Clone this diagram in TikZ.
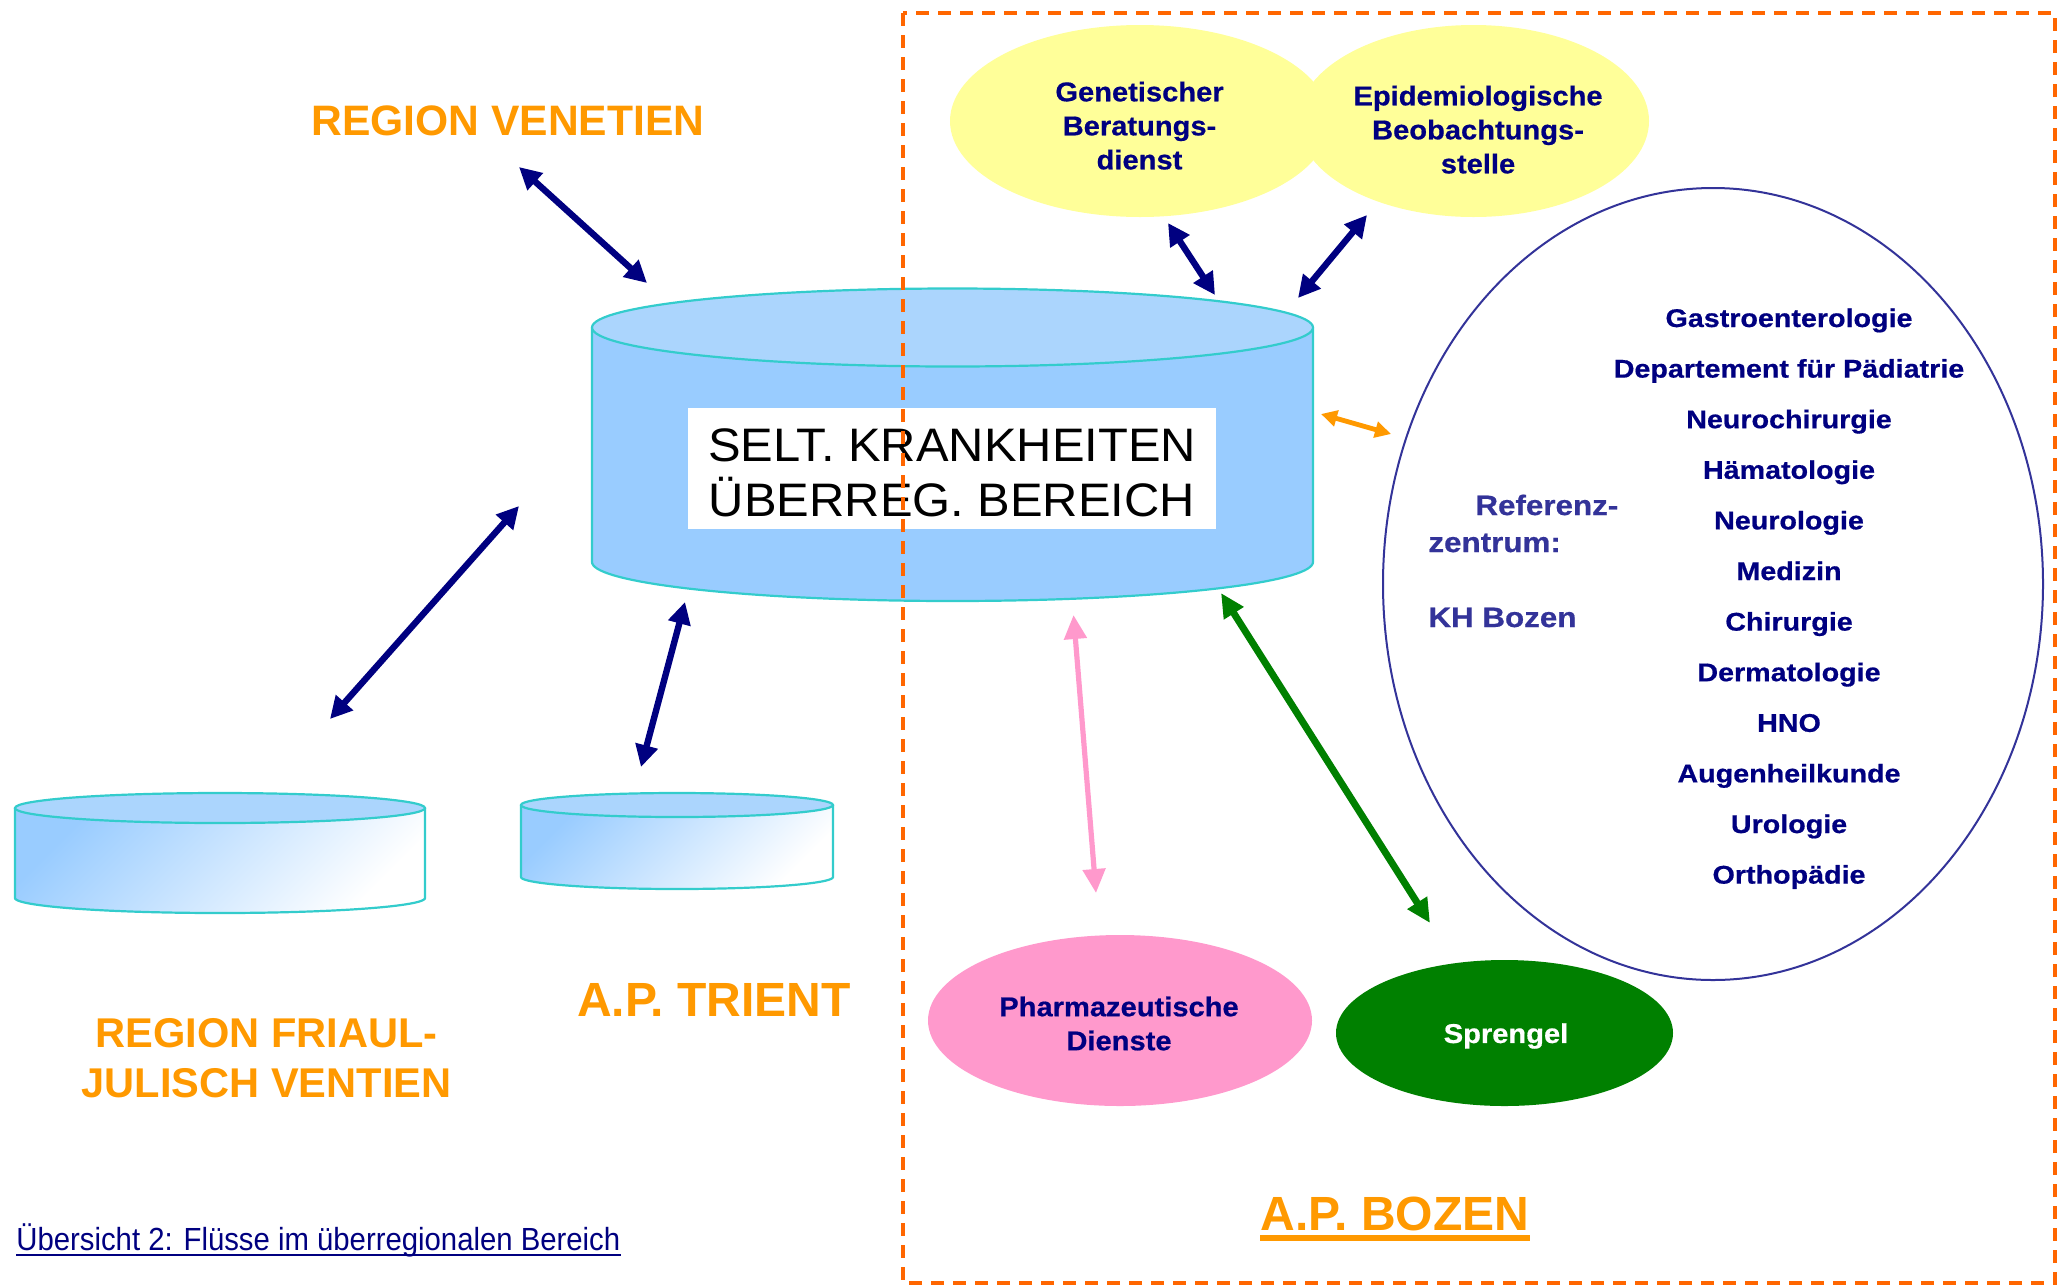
\documentclass[tikz,border=0pt]{standalone}
\usepackage{fontspec}
\setmainfont{Liberation Sans}
\newfontfamily\fEll[FakeStretch=1.07,FakeBold=0.6]{Liberation Sans}
\newfontfamily\fList[FakeStretch=1.12,FakeBold=0.6]{Liberation Sans}
\newfontfamily\fCap[FakeStretch=0.916]{Liberation Sans}
\newfontfamily\fMain[FakeStretch=1.04]{Liberation Sans}
\usetikzlibrary{arrows.meta,shapes.geometric}
\definecolor{navy}{HTML}{000080}
\definecolor{orangeT}{HTML}{FF9900}
\definecolor{dashOr}{HTML}{FF6600}
\definecolor{cylBody}{HTML}{99CCFF}
\definecolor{cylTop}{HTML}{ABD5FD}
\definecolor{cylLine}{HTML}{33CCCC}
\definecolor{yel}{HTML}{FFFF99}
\definecolor{pinkF}{HTML}{FF99CC}
\definecolor{greenF}{HTML}{008000}
\definecolor{slate}{HTML}{333399}
% cx, rx, ytop, ybot, ry, fill options
\newcommand\drawCyl[6]{%
  \path[#6] ({#1-#2},#3) -- ({#1-#2},#4) -- plot[domain=180:0,samples=73] ({#1+#2*cos(\x)},{#4+#5*sin(\x)}) -- ({#1+#2},#3) -- cycle;
  \draw[cylEdge] ({#1-#2},#3) -- ({#1-#2},#4) -- plot[domain=180:0,samples=73] ({#1+#2*cos(\x)},{#4+#5*sin(\x)}) -- ({#1+#2},#3);
  \draw[cylEdge,fill=cylTop] (#1,#3) ellipse [x radius=#2, y radius=#5];
}
\begin{document}
\begin{tikzpicture}[x=0.5pt,y=-0.5pt,
  cylEdge/.style={draw=cylLine, line width=1.1pt},
  ellTxt/.style={text=navy, font=\fEll\bfseries\fontsize{13.6}{17}\selectfont, align=center, inner sep=0},
  listTxt/.style={text=navy, font=\fList\bfseries\fontsize{12.8}{15}\selectfont, inner sep=0, anchor=base},
  refTxt/.style={text=slate, font=\fList\bfseries\fontsize{14}{17}\selectfont, inner sep=0, anchor=base west},
  regionTxt/.style={text=orangeT, font=\bfseries\fontsize{20.8}{25}\selectfont, inner sep=0, anchor=base},
  apTxt/.style={text=orangeT, font=\bfseries\fontsize{24}{28}\selectfont, inner sep=0, anchor=base},
  blob/.style={ellipse, inner sep=0},
  navyArrow/.style={draw=navy, line width=3.2pt, arrows={Triangle[length=11pt,width=11pt]-Triangle[length=11pt,width=11pt]}},
  pinkArrow/.style={draw=pinkF, line width=2.6pt, arrows={Triangle[length=12pt,width=11pt]-Triangle[length=12pt,width=11pt]}},
  greenArrow/.style={draw=greenF, line width=3.5pt, arrows={Triangle[length=12pt,width=11pt]-Triangle[length=12pt,width=11pt]}},
  orangeArrow/.style={draw=orangeT, line width=2.4pt, arrows={Triangle[length=8pt,width=8pt]-Triangle[length=8pt,width=8pt]}}
]
\useasboundingbox (0,0) rectangle (2060,1286);

% cylinders
\drawCyl{952.5}{360.5}{327.5}{562}{39}{fill=cylBody}
\drawCyl{220}{205}{808}{898}{15}{top color=cylBody, bottom color=white, shading angle=45}
\drawCyl{677}{156}{805}{877}{12}{top color=cylBody, bottom color=white, shading angle=45}
\node[inner sep=0, minimum width=360.5pt, minimum height=156pt] (cylMain) at (952.5,444) {};
\node[inner sep=0, minimum width=205pt, minimum height=60pt] (cylFriaul) at (220,853) {};
\node[inner sep=0, minimum width=156pt, minimum height=48pt] (cylTrient) at (677,841) {};

% central label
\node[fill=white, inner sep=0, minimum width=264pt, minimum height=60.5pt] (mainBox) at (952,468.5) {};
\node[align=center, inner sep=0, font=\fMain\fontsize{23.5}{27.5}\selectfont] (mainTxt) at (952,472.4) {SELT. KRANKHEITEN\\ÜBERREG. BEREICH};

% dashed region A.P. Bozen
\draw[dashOr, line width=2pt, dash pattern=on 6.5pt off 4.5pt] (903,13) rectangle (2055,1283);

% ellipses
\node[blob, fill=yel, minimum width=190pt, minimum height=96pt] (gen) at (1140,121) {};
\node[blob, fill=yel, minimum width=175.5pt, minimum height=96pt] (epi) at (1473.5,121) {};
\node[ellTxt] (genTxt) at (1139.5,125.6) {Genetischer\\Beratungs-\\dienst};
\node[ellTxt] (epiTxt) at (1478,129.6) {Epidemiologische\\Beobachtungs-\\stelle};

\node[blob, draw=slate, line width=1pt, fill=white, minimum width=330pt, minimum height=396pt] (ref) at (1713,584) {};
\node[blob, fill=pinkF, minimum width=192pt, minimum height=85.5pt] (pharma) at (1120,1020.5) {};
\node[ellTxt] (pharmaTxt) at (1119,1023.5) {Pharmazeutische\\Dienste};
\node[blob, fill=greenF, minimum width=168.5pt, minimum height=73pt] (sprengel) at (1504.5,1033) {};
\node[ellTxt, text=white] (sprengelTxt) at (1506,1036) {Sprengel};

% Referenzzentrum text
\node[refTxt] (ref1) at (1475,515) {Referenz-};
\node[refTxt] (ref2) at (1428,552) {zentrum:};
\node[refTxt] (ref3) at (1428,627) {KH Bozen};
\foreach \t [count=\i] in {Gastroenterologie, Departement für Pädiatrie, Neurochirurgie, Hämatologie, Neurologie, Medizin, Chirurgie, Dermatologie, HNO, Augenheilkunde, Urologie, Orthopädie}
  \node[listTxt] (dept\i) at (1789,{327+50.6*(\i-1)}) {\t};

% region labels
\node[regionTxt, font=\bfseries\fontsize{21.3}{25}\selectfont] (venetien) at (508,135) {REGION VENETIEN};
\node[regionTxt] (friaul1) at (266.5,1047) {REGION FRIAUL-};
\node[regionTxt] (friaul2) at (266.5,1097) {JULISCH VENTIEN};
\node[apTxt] (trient) at (714,1016.7) {A.P. TRIENT};
\node[apTxt] (bozen) at (1395,1230) {A.P. BOZEN};
\draw[orangeT, line width=2.8pt] ([yshift=-3.9pt]bozen.base west) -- ([yshift=-3.9pt]bozen.base east);

% caption
\node[inner sep=0, anchor=base west, text=navy, font=\fCap\fontsize{16}{19}\selectfont] (caption) at (16,1250) {Übersicht 2: Flüsse im überregionalen Bereich};
\draw[navy, line width=1.4pt] ([yshift=-2.5pt]caption.base west) -- ([yshift=-2.5pt]caption.base east);

% connector end points
\coordinate (vA) at (519,167);  \coordinate (vB) at (647,283);
\coordinate (fA) at (330,719);  \coordinate (fB) at (519,506);
\coordinate (tA) at (641,767);  \coordinate (tB) at (685,602);
\coordinate (gA) at (1168,223); \coordinate (gB) at (1215,295);
\coordinate (eA) at (1367,215); \coordinate (eB) at (1298,298);
\coordinate (oA) at (1321,414); \coordinate (oB) at (1391,434);
\coordinate (pA) at (1073.5,615); \coordinate (pB) at (1096,893);
\coordinate (sA) at (1221,593); \coordinate (sB) at (1430,923);

\draw[navyArrow] (vA) -- (vB);
\draw[navyArrow] (fA) -- (fB);
\draw[navyArrow] (tA) -- (tB);
\draw[navyArrow] (gA) -- (gB);
\draw[navyArrow] (eA) -- (eB);
\draw[orangeArrow] (oA) -- (oB);
\draw[pinkArrow] (pA) -- (pB);
\draw[greenArrow] (sA) -- (sB);
\end{tikzpicture}
\end{document}
